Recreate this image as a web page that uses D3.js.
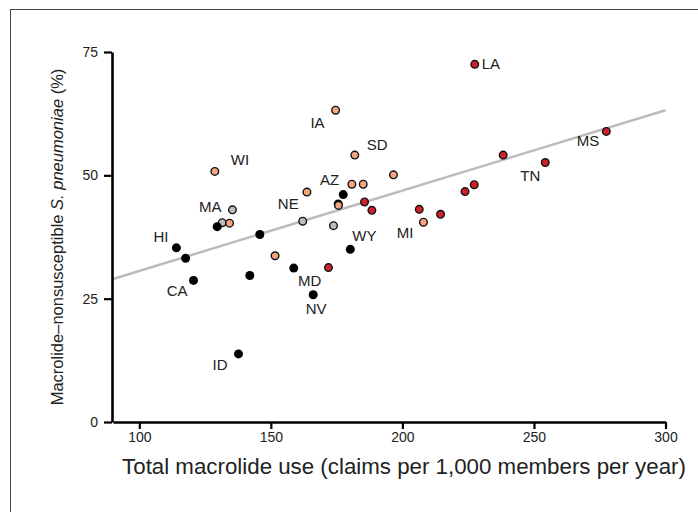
<!DOCTYPE html>
<html>
<head>
<meta charset="utf-8">
<script src="https://cdn.jsdelivr.net/npm/d3@7"></script>
<style>
  html, body { margin: 0; padding: 0; background: #fff; }
  svg { display: block; font-family: "Liberation Sans", Arial, sans-serif; }
</style>
</head>
<body>
<div id="chart"></div>
<script>
// states (blank = unlabelled), macrolide claims per 1,000 members per year, % nonsusceptible
const states = [
  'HI', '', 'CA', 'ID', '', '', '', 'MD', 'NV', 'WY', 'AZ', '',
  'MA', '', 'NE', '',
  'WI', '', '', '', '', '', '', '', 'IA', 'SD', 'MI',
  'LA', '', '', '', '', '', 'TN', 'MS', '', '', ''
]
const macrolideUse = [
  114.1, 117.6, 120.6, 137.7, 129.6, 145.8, 142.0, 158.7, 166.1, 180.2, 177.5, 175.6,
  135.4, 131.5, 162.1, 173.8,
  128.7, 134.3, 151.6, 163.7, 180.8, 185.1, 175.7, 196.6, 174.6, 181.9, 208.0,
  227.5, 223.8, 227.3, 206.4, 214.5, 238.3, 254.3, 277.5, 171.9, 185.6, 188.4
]
const nonsusceptible = [
  35.3, 33.2, 28.7, 13.8, 39.6, 38.0, 29.7, 31.2, 25.8, 35.0, 46.1, 44.2,
  43.0, 40.4, 40.7, 39.8,
  50.8, 40.3, 33.7, 46.6, 48.2, 48.2, 43.9, 50.1, 63.2, 54.1, 40.5,
  72.5, 46.7, 48.1, 43.1, 42.1, 54.1, 52.6, 58.9, 31.3, 44.6, 42.9
]
const group = [
  'g1', 'g1', 'g1', 'g1', 'g1', 'g1', 'g1', 'g1', 'g1', 'g1', 'g1', 'g1',
  'g0', 'g0', 'g0', 'g0',
  'g2', 'g2', 'g2', 'g2', 'g2', 'g2', 'g2', 'g2', 'g2', 'g2', 'g2',
  'g3', 'g3', 'g3', 'g3', 'g3', 'g3', 'g3', 'g3', 'g3', 'g3', 'g3'
]
const groupOrder = ['g0', 'g1', 'g2', 'g3']

// fitted line endpoints
const fitX = [90, 300]
const fitY = [29.0, 63.2]

const xTicks = [100, 150, 200, 250, 300]
const yTicks = [0, 25, 50, 75]

const groupFill = { g0: '#bdbdbd', g1: '#000000', g2: '#f4a582', g3: '#d0202a' }

// label placement relative to the point (px)
const labelPos = {
  HI: ['end', -8, -6], CA: ['end', -6, 16], ID: ['end', -11, 16],
  MD: ['middle', 16, 18], NV: ['middle', 3, 19], WY: ['start', 2, -8],
  AZ: ['end', -4, -10], MA: ['end', -11, 2], NE: ['end', -4, -12],
  WI: ['start', 16, -6], IA: ['end', -11, 18], SD: ['start', 12, -5],
  MI: ['end', -10, 16], LA: ['start', 7, 5], TN: ['end', -5, 18], MS: ['end', -7, 15]
}

const W = 698, H = 512
const margin = { top: 52, right: 32, bottom: 90, left: 112 }

const data = states.map((s, i) => ({
  state: s, use: macrolideUse[i], pct: nonsusceptible[i], group: group[i]
})).sort((a, b) => groupOrder.indexOf(a.group) - groupOrder.indexOf(b.group))

const svg = d3.select('#chart').append('svg')
  .attr('width', W).attr('height', H)

// frame
svg.append('rect')
  .attr('x', 10.5).attr('y', 9.5)
  .attr('width', 900).attr('height', 900)
  .attr('fill', 'none').attr('stroke', '#444').attr('stroke-width', 1)

const x = d3.scaleLinear().domain([90, 300]).range([margin.left + 1, W - margin.right - 0.5])
const y = d3.scaleLinear().domain([0, 75]).range([H - margin.bottom, margin.top])

// fitted line
svg.append('line')
  .attr('x1', x(fitX[0])).attr('y1', y(fitY[0]))
  .attr('x2', x(fitX[1])).attr('y2', y(fitY[1]))
  .attr('stroke', '#bcbcbc').attr('stroke-width', 2.5)

// axes
const yAxis = svg.append('g')
  .attr('transform', `translate(${margin.left},0)`)
  .call(d3.axisLeft(y).tickValues(yTicks).tickSize(8).tickSizeOuter(0).tickPadding(6))
const xAxis = svg.append('g')
  .attr('transform', `translate(0,${H - margin.bottom})`)
  .call(d3.axisBottom(x).tickValues(xTicks).tickSize(7).tickSizeOuter(0).tickPadding(3))

;[xAxis, yAxis].forEach(ax => {
  ax.attr('font-family', null).attr('font-size', null)
  ax.select('.domain').attr('stroke', '#000').attr('stroke-width', 2.6)
  ax.selectAll('.tick line').attr('stroke', '#000').attr('stroke-width', 2.2)
  ax.selectAll('.tick text').attr('fill', '#222').style('font-size', '14px')
})

// points
svg.append('g').selectAll('circle')
  .data(data)
  .join('circle')
  .attr('cx', d => x(d.use))
  .attr('cy', d => y(d.pct))
  .attr('r', d => d.group === 'g1' ? 4.5 : 3.8)
  .attr('fill', d => groupFill[d.group])
  .attr('stroke', d => d.group === 'g1' ? 'none' : '#111')
  .attr('stroke-width', 1.4)

// point labels
svg.append('g').selectAll('text')
  .data(data.filter(d => d.state && labelPos[d.state]))
  .join('text')
  .attr('fill', '#222')
  .style('font-size', '15px')
  .attr('x', d => x(d.use) + labelPos[d.state][1])
  .attr('y', d => y(d.pct) + labelPos[d.state][2])
  .attr('text-anchor', d => labelPos[d.state][0])
  .text(d => d.state)

// axis titles
svg.append('text')
  .attr('fill', '#222')
  .style('font-size', '22.3px')
  .attr('x', 404).attr('y', 474)
  .attr('text-anchor', 'middle')
  .text('Total macrolide use (claims per 1,000 members per year)')

const yt = svg.append('text')
  .attr('fill', '#222')
  .attr('transform', `translate(63,${y(37.5)}) rotate(-90)`)
  .attr('text-anchor', 'middle')
  .style('font-size', '16.5px')
yt.append('tspan').text('Macrolide\u2013nonsusceptible ')
yt.append('tspan').attr('font-style', 'italic').text('S. pneumoniae')
yt.append('tspan').text(' (%)')
</script>
</body>
</html>
